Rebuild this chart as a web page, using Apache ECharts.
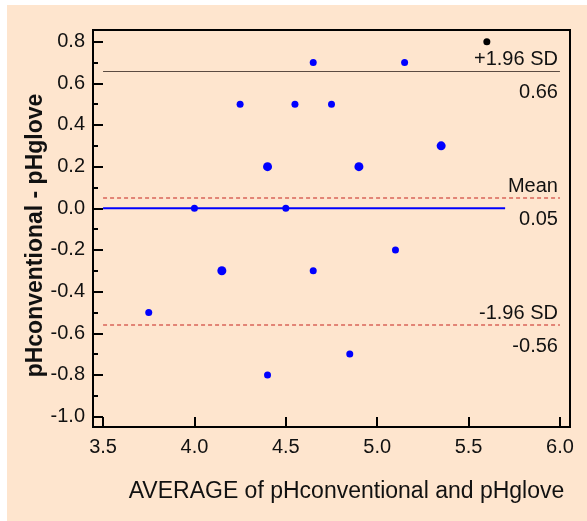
<!DOCTYPE html>
<html>
<head>
<meta charset="utf-8">
<script src="https://cdn.jsdelivr.net/npm/echarts@6/dist/echarts.min.js"></script>
<style>
html,body{margin:0;padding:0;background:#ffffff;}
#chart{position:absolute;left:7px;top:5px;width:580px;height:516px;}
</style>
</head>
<body>
<div id="chart"></div>
<script>
// ---- data ----
const avgValues  = [3.75, 4.0, 4.15, 4.25, 4.4, 4.4, 4.5, 4.55, 4.65, 4.65, 4.75, 4.85, 4.9, 5.1, 5.15, 5.35];
const diffValues = [-0.5, 0.0, -0.3, 0.5, 0.2, -0.8, 0.0, 0.5, 0.7, -0.3, 0.5, -0.7, 0.2, -0.2, 0.7, 0.3];
const pointCounts = [1, 1, 2, 1, 2, 1, 1, 1, 1, 1, 1, 1, 2, 1, 1, 2];
const outlierPoint = [5.6, 0.8];
const meanDiff = 0.05;
const upperLoA = 0.66;
const lowerLoA = -0.56;
const equalityLine = [[3.5, 0.0], [5.7, 0.0]];
const refLineX = [3.5, 6.0];
const xTicks = [3.5, 4.0, 4.5, 5.0, 5.5, 6.0];
const yTicks = [-1.0, -0.8, -0.6, -0.4, -0.2, 0.0, 0.2, 0.4, 0.6, 0.8];
const yMinorTicks = [-0.9, -0.7, -0.5, -0.3, -0.1, 0.1, 0.3, 0.5, 0.7];
const xTitle = 'AVERAGE of pHconventional and pHglove';
const yTitle = 'pHconventional - pHglove';

const FONT = 'Liberation Sans';
const chart = echarts.init(document.getElementById('chart'));

function refLine(y, topText, bottomText, style) {
  return [
    [
      { coord: [refLineX[0], y], lineStyle: style,
        label: { show: true, position: 'insideEndTop', formatter: topText, distance: [2, 1],
                 color: '#111', fontSize: 20, fontFamily: FONT } },
      { coord: [refLineX[1], y] }
    ],
    [
      { coord: [refLineX[0], y], lineStyle: { color: 'rgba(0,0,0,0)', width: 1, type: 'solid' },
        label: { show: true, position: 'insideEndBottom', formatter: bottomText, distance: [2, 12],
                 color: '#111', fontSize: 20, fontFamily: FONT } },
      { coord: [refLineX[1], y] }
    ]
  ];
}

const redDash = { color: '#d9645a', width: 1.5, type: [4, 3] };
const greyLine = { color: '#5b4b42', width: 1, type: 'solid' };

const option = {
  backgroundColor: '#fee5ce',
  animation: false,
  grid: { left: 86, right: 17, top: 25, bottom: 94, show: true, borderColor: '#000', borderWidth: 2, backgroundColor: 'transparent' },
  xAxis: {
    type: 'value', min: 3.445, max: 6.055,
    axisLine: { show: true, onZero: false, lineStyle: { color: '#000', width: 2 } },
    axisTick: { show: true, inside: true, length: 10, customValues: xTicks, lineStyle: { color: '#000', width: 2 } },
    axisLabel: { customValues: xTicks, formatter: v => v.toFixed(1), color: '#111', fontSize: 20, fontFamily: FONT, margin: 10 },
    splitLine: { show: false },
    name: xTitle, nameLocation: 'middle', nameGap: 53, nameMoveOverlap: false,
    nameTextStyle: { color: '#111', fontSize: 23, fontFamily: FONT, padding: [0, 0, 0, 30] }
  },
  yAxis: [{
    type: 'value', min: -1.05, max: 0.856,
    axisLine: { show: true, onZero: false, lineStyle: { color: '#000', width: 2 } },
    axisTick: { show: true, inside: true, length: 10, customValues: yTicks, lineStyle: { color: '#000', width: 2 } },
    axisLabel: { customValues: yTicks, formatter: v => v.toFixed(1), color: '#111', fontSize: 20, fontFamily: FONT, margin: 8 },
    splitLine: { show: false },
    name: yTitle, nameLocation: 'middle', nameGap: 46, nameMoveOverlap: false,
    nameTextStyle: { color: '#111', fontSize: 23, fontWeight: 'bold', fontFamily: FONT, padding: [0, 14, 0, 0] }
  }, {
    type: 'value', min: -1.05, max: 0.856, position: 'left',
    axisLine: { show: false },
    axisTick: { show: true, inside: true, length: 5, customValues: yMinorTicks, lineStyle: { color: '#000', width: 2 } },
    axisLabel: { show: false },
    splitLine: { show: false }
  }],
  series: [
    {
      type: 'line', data: equalityLine, symbol: 'none', silent: true,
      lineStyle: { color: '#0000ff', width: 2 }, z: 2
    },
    {
      type: 'scatter', data: [], silent: true,
      markLine: {
        symbol: 'none', silent: true, animation: false,
        data: [].concat(
          refLine(upperLoA, '+1.96 SD', upperLoA.toFixed(2), greyLine),
          refLine(meanDiff, 'Mean', meanDiff.toFixed(2), redDash),
          refLine(lowerLoA, '-1.96 SD', lowerLoA.toFixed(2), redDash)
        )
      }
    },
    {
      type: 'scatter', z: 5,
      data: avgValues.map((x, i) => ({ value: [x, diffValues[i]], symbolSize: pointCounts[i] > 1 ? 9 : 7 })),
      itemStyle: { color: '#0000ff', opacity: 1 }
    },
    {
      type: 'scatter', z: 5, data: [outlierPoint], symbolSize: 7,
      itemStyle: { color: '#000000', opacity: 1 }
    }
  ]
};
chart.setOption(option);
</script>
</body>
</html>
